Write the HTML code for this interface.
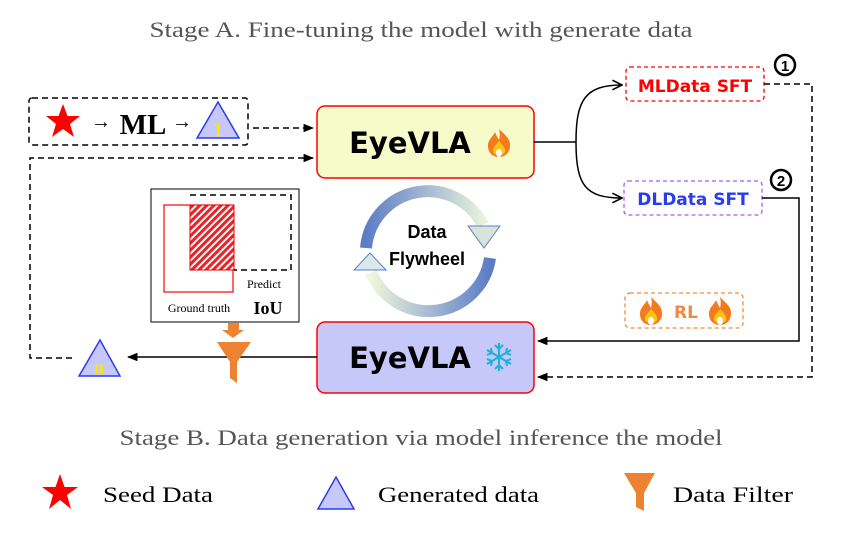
<!DOCTYPE html>
<html><head><meta charset="utf-8"><style>body{margin:0;background:#fff}svg{display:block}.s{font-family:"Liberation Serif",serif}.c{font-family:"DejaVu Sans",sans-serif;font-weight:bold}</style></head><body>
<svg width="843" height="540" viewBox="0 0 843 540" xmlns="http://www.w3.org/2000/svg">
<defs>
<marker id="ah" viewBox="0 0 10 10" refX="9" refY="5" markerWidth="7" markerHeight="7" orient="auto-start-reverse"><path d="M0,1 L10,5 L0,9 z" fill="#000"/></marker>
<marker id="oa" viewBox="0 0 10 10" refX="9" refY="5" markerWidth="8" markerHeight="8" orient="auto"><path d="M1,1 L9,5 L1,9" fill="none" stroke="#000" stroke-width="1.3"/></marker>
<pattern id="hatch" width="5" height="5" patternUnits="userSpaceOnUse" patternTransform="rotate(45)"><rect width="5" height="5" fill="#fff"/><rect width="3" height="5" fill="#e8242a"/></pattern>
<linearGradient id="g1" x1="0" y1="0" x2="1" y2="0"><stop offset="0" stop-color="#4a6fc0"/><stop offset="1" stop-color="#e6f0d8"/></linearGradient>
<linearGradient id="g2" x1="1" y1="0" x2="0" y2="0"><stop offset="0" stop-color="#4a6fc0"/><stop offset="1" stop-color="#eef4d8"/></linearGradient>
<g id="flame"><path d="M0,-14 C6,-8 12,-4 11,4 C10,11 5,14 0,14 C-6,14 -11,10 -11,3 C-11,-4 -6,-6 -4,-11 C-2,-6 -1,-5 0,-3 C1,-7 1,-10 0,-14z" fill="#f57a1e"/><path d="M0,-2 C4,2 7,6 6,9 C5,13 -5,13 -6,9 C-7,5 -3,2 0,-2z" fill="#fcc419"/><ellipse cx="0" cy="10" rx="3" ry="4" fill="#fff"/></g>
</defs>
<text x="421" y="37" class="s" font-size="22" fill="#555" text-anchor="middle" textLength="543" lengthAdjust="spacingAndGlyphs">Stage A. Fine-tuning the model with generate data</text>
<rect x="29" y="98" width="219" height="47" rx="3" fill="none" stroke="#000" stroke-width="1.5" stroke-dasharray="6,4"/>
<polygon points="63,104 67.5,116 80,116 70,124 74,137 63,129 52,137 56,124 46,116 58.5,116" fill="#f00"/>
<text x="101" y="128" class="s" font-size="20" text-anchor="middle">→</text>
<text x="143" y="134" class="s" font-size="29" font-weight="bold" text-anchor="middle">ML</text>
<text x="182" y="128" class="s" font-size="20" text-anchor="middle">→</text>
<polygon points="218,102 239,138 197,138" fill="#c5c8f8" stroke="#2a3cf0" stroke-width="1.5"/>
<text x="218" y="136" class="s" font-size="20" font-weight="bold" fill="#ffe600" text-anchor="middle">1</text>
<line x1="253" y1="128" x2="313" y2="128" stroke="#000" stroke-width="1.5" stroke-dasharray="6,4" marker-end="url(#ah)"/>
<path d="M72,358 H30 V158 H313" fill="none" stroke="#000" stroke-width="1.5" stroke-dasharray="6,4" marker-end="url(#ah)"/>
<rect x="317" y="106" width="217" height="72" rx="8" fill="#f5fbc9" stroke="#f00" stroke-width="1.5"/>
<text x="410" y="153" class="c" font-size="29" text-anchor="middle">EyeVLA</text>
<use href="#flame" x="499" y="143"/>
<rect x="317" y="322" width="217" height="71" rx="8" fill="#c5c8f8" stroke="#f00" stroke-width="1.5"/>
<text x="410" y="368" class="c" font-size="29" text-anchor="middle">EyeVLA</text>
<g stroke="#1ab2d8" stroke-width="2" fill="none" transform="translate(499,357)">
<line x1="0" y1="-14" x2="0" y2="14"/><line x1="-12" y1="-7" x2="12" y2="7"/><line x1="-12" y1="7" x2="12" y2="-7"/>
<path d="M-4,-12 L0,-8 L4,-12 M-4,12 L0,8 L4,12 M-12,-2 L-7,-4 L-8,-9 M12,2 L7,4 L8,9 M-12,2 L-7,4 L-8,9 M12,-2 L7,-4 L8,-9"/>
</g>
<path d="M366,248 A62,62 0 0 1 483,225" fill="none" stroke="url(#g1)" stroke-width="12" stroke-opacity="0.9"/>
<polygon points="468,226 500,226 484,248" fill="#d6e4da" stroke="#5a7fc8"/>
<path d="M490,258 A62,62 0 0 1 371,272" fill="none" stroke="url(#g2)" stroke-width="12" stroke-opacity="0.9"/>
<polygon points="354,270 386,270 370,253" fill="#dbe7e8" stroke="#5a7fc8"/>
<text x="427" y="238" font-family="Liberation Sans,sans-serif" font-size="18" font-weight="bold" text-anchor="middle">Data</text>
<text x="427" y="265" font-family="Liberation Sans,sans-serif" font-size="18" font-weight="bold" text-anchor="middle">Flywheel</text>
<rect x="151" y="189" width="148" height="133" fill="#fff" stroke="#000" stroke-width="1"/>
<rect x="164" y="205" width="69" height="87" fill="none" stroke="#f00" stroke-width="1.2"/>
<rect x="190" y="205" width="44" height="65" fill="url(#hatch)" stroke="#e00" stroke-width="1"/>
<path d="M190,195 H291 V270 H234" fill="none" stroke="#000" stroke-width="1.5" stroke-dasharray="6,4"/>
<text x="264" y="288" class="s" font-size="12" text-anchor="middle">Predict</text>
<text x="199" y="312" class="s" font-size="12" text-anchor="middle">Ground truth</text>
<text x="268" y="314" class="s" font-size="18" font-weight="bold" text-anchor="middle">IoU</text>
<polygon points="228,323 239,323 239,330 244,330 233,338 222,330 228,330" fill="#ed8331"/>
<line x1="317" y1="357" x2="128" y2="357" stroke="#000" stroke-width="1.5" marker-end="url(#ah)"/>
<polygon points="217,342 251,342 237,362 237,383 230,378 230,362" fill="#ed8331"/>
<polygon points="100,340 120,376 79,376" fill="#c5c8f8" stroke="#2a3cf0" stroke-width="1.5"/>
<text x="99" y="373" class="s" font-size="18" font-weight="bold" fill="#ffe600" text-anchor="middle">n</text>
<line x1="534" y1="142" x2="576" y2="142" stroke="#000" stroke-width="1.5"/>
<path d="M576,142 C576,100 585,85 622,85" fill="none" stroke="#000" stroke-width="1.5" marker-end="url(#oa)"/>
<path d="M576,142 C576,185 585,198 622,198" fill="none" stroke="#000" stroke-width="1.5" marker-end="url(#oa)"/>
<rect x="626" y="67" width="138" height="34" rx="4" fill="none" stroke="#f00" stroke-width="1.3" stroke-dasharray="4,3"/>
<text x="695" y="92" class="c" font-size="17" fill="#f00" text-anchor="middle">MLData SFT</text>
<rect x="624" y="181" width="138" height="34" rx="4" fill="none" stroke="#a55ff0" stroke-width="1.3" stroke-dasharray="4,3"/>
<text x="693" y="205" class="c" font-size="17" fill="#2a3cf0" text-anchor="middle">DLData SFT</text>
<circle cx="785" cy="65" r="10" fill="none" stroke="#000" stroke-width="2.5"/>
<text x="785" y="71" font-family="Liberation Sans,sans-serif" font-size="15" font-weight="bold" text-anchor="middle">1</text>
<circle cx="781" cy="180" r="10" fill="none" stroke="#000" stroke-width="2.5"/>
<text x="781" y="186" font-family="Liberation Sans,sans-serif" font-size="15" font-weight="bold" text-anchor="middle">2</text>
<path d="M764,84 H812 V377 H538" fill="none" stroke="#000" stroke-width="1.5" stroke-dasharray="6,4" marker-end="url(#ah)"/>
<path d="M762,198 H799 V341 H538" fill="none" stroke="#000" stroke-width="1.5" marker-end="url(#ah)"/>
<rect x="625" y="293" width="118" height="35" rx="5" fill="none" stroke="#f08a40" stroke-width="1.3" stroke-dasharray="4,3"/>
<use href="#flame" x="651" y="311"/>
<use href="#flame" x="720" y="311"/>
<text x="686" y="318" class="c" font-size="17" fill="#f08a40" text-anchor="middle">RL</text>
<text x="421" y="445" class="s" font-size="22" fill="#555" text-anchor="middle" textLength="603" lengthAdjust="spacingAndGlyphs">Stage B. Data generation via model inference the model</text>
<polygon points="60,474 64.5,487 78,487 67,495 71,509 60,500 49,509 53,495 42,487 55.5,487" fill="#f00"/>
<text x="103" y="502" class="s" font-size="22" textLength="110" lengthAdjust="spacingAndGlyphs">Seed Data</text>
<polygon points="336,477 354,509 318,509" fill="#c5c8f8" stroke="#2a3cf0" stroke-width="1.5"/>
<text x="378" y="502" class="s" font-size="22" textLength="161" lengthAdjust="spacingAndGlyphs">Generated data</text>
<polygon points="624,473 655,473 644,493 644,511 636,507 636,493" fill="#ed8331"/>
<text x="673" y="502" class="s" font-size="22" textLength="120" lengthAdjust="spacingAndGlyphs">Data Filter</text>
</svg>
</body></html>
